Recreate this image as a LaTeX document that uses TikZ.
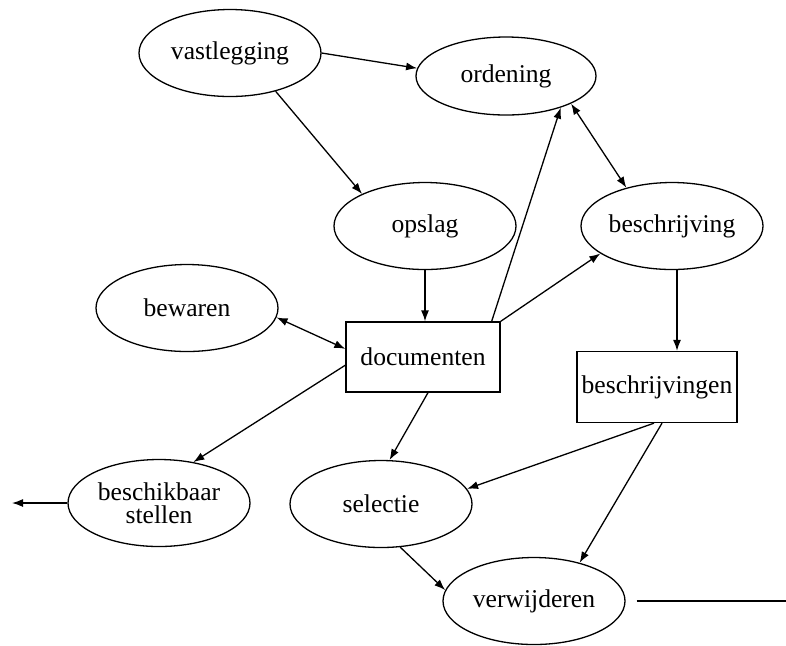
\documentclass[tikz,border=0pt]{standalone}
\usepackage{fontspec}
\setmainfont{Liberation Serif}
\usetikzlibrary{shapes.geometric,arrows.meta}
\tikzset{every picture/.style={line width=0.65pt}}

\begin{document}
\begin{tikzpicture}[x=0.5pt,y=0.5pt,yscale=-1,
  proc/.style={draw, ellipse, minimum width=91pt, minimum height=43.5pt, inner xsep=-2pt, inner ysep=0pt, align=center, font=\fontsize{12.8}{11.5}\selectfont},
  store/.style={draw, rectangle, minimum width=77pt, minimum height=35pt, inner sep=0pt, font=\fontsize{12.8}{11.5}\selectfont},
  flow/.style={-{Latex[length=5.5pt,width=4pt]}},
  twoway/.style={{Latex[length=5.5pt,width=4pt]}-{Latex[length=5.5pt,width=4pt]}}]
\useasboundingbox (0,0) rectangle (786,645);

%Shape: Ellipses
\node[proc] (vastlegging) at (230,53) {vastlegging};
\node[proc, minimum width=90pt, minimum height=39pt] (ordening) at (506,76) {ordening};
\node[proc] (opslag) at (425,226) {opslag};
\node[proc] (beschrijving) at (672,226) {beschrijving};
\node[proc] (bewaren) at (187,308) {bewaren};
\node[proc] (beschikbaar) at (159,503) {beschikbaar\\stellen};
\node[proc] (selectie) at (381,504) {selectie};
\node[proc] (verwijderen) at (534,601) {verwijderen};
%Shape: Rectangles
\node[store] (documenten) at (423,357) {documenten};
\node[store, minimum width=80pt, minimum height=35.5pt] (beschrijvingen) at (657,387) {beschrijvingen};
%free ends
\coordinate (uit) at (12,503);
\coordinate (rand) at (786,601);

%Arrows
\draw[flow] (vastlegging.east) -- (ordening.175);
\draw[flow] (vastlegging.-40) -- (opslag.153);
\draw[flow] (opslag.south) -- (opslag.south |- documenten.north);
\draw[flow] ([xshift=-4.5pt]documenten.north east) -- (ordening.-30);
\draw[twoway] (ordening.-23) -- (beschrijving.140);
\draw[flow] (documenten.north east) -- (beschrijving.201);
\draw[flow] ([xshift=2.5pt]beschrijving.south) -- ([xshift=2.5pt]beschrijving.south |- beschrijvingen.north);
\draw[twoway] (bewaren.-6) -- (documenten.174);
\draw[flow] (documenten.186) -- (beschikbaar.50);
\draw[flow] ([xshift=2.5pt]documenten.south) -- (selectie.79);
\draw[flow] ([xshift=-1.5pt]beschrijvingen.south) -- (selectie.10);
\draw[flow] ([xshift=2.5pt]beschrijvingen.south) -- (verwijderen.40);
\draw[flow] (selectie.-66) -- (verwijderen.173);
\draw[flow] (beschikbaar.west) -- (uit);
\draw ([xshift=5.5pt]verwijderen.east) -- (rand);

\end{tikzpicture}
\end{document}
